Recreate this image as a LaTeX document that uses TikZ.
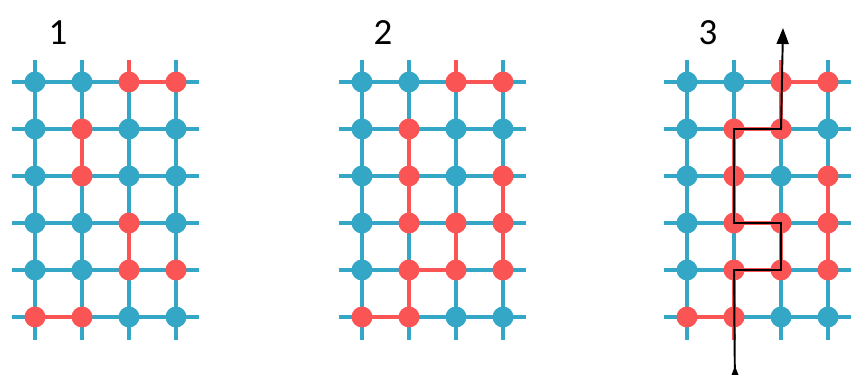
\documentclass[tikz,border=0pt]{standalone}
\usepackage{fontspec}
\setmainfont{Carlito}
\usetikzlibrary{arrows.meta, backgrounds}
\definecolor{spinblue}{RGB}{52, 166, 198}
\definecolor{spinred}{RGB}{250, 84, 84}

\tikzset{
  siteb/.style={circle, fill=spinblue, inner sep=0pt, minimum size=0.42cm},
  siter/.style={siteb, fill=spinred},
  bond/.style={spinblue, line width=0.085cm},
  redbond/.style={spinred, line width=0.085cm},
  wall/.style={black, line width=1.1pt},
  num/.style={font=\fontsize{21}{25}\selectfont}
}

% #1 lattice name, #2 x of first column, #3 site states row by row, #4 red bonds
\newcommand{\spinlattice}[4]{
  \foreach \row [count=\r] in {#3}
    \foreach \s [count=\c] in \row
      \node[site\s] (#1-\r-\c) at ({#2+47*(\c-1)}, {82+47*(\r-1)}) {};
  \foreach \r in {1,...,6} {
    \coordinate (#1-\r-W) at ({#2-23}, {82+47*(\r-1)});
    \coordinate (#1-\r-E) at ({#2+164}, {82+47*(\r-1)});
  }
  \foreach \c in {1,...,4} {
    \coordinate (#1-N-\c) at ({#2+47*(\c-1)}, 60);
    \coordinate (#1-S-\c) at ({#2+47*(\c-1)}, 340);
  }
  \begin{scope}[on background layer]
    \foreach \r in {1,...,6}
      \draw[bond] (#1-\r-W) -- (#1-\r-E);
    \foreach \c in {1,...,4}
      \draw[bond] (#1-N-\c) -- (#1-S-\c);
    \foreach \a/\b in {#4}
      \draw[redbond] (#1-\a.center) -- (#1-\b.center);
  \end{scope}
}

\begin{document}
\begin{tikzpicture}[x=0.02cm, y=-0.02cm]
  \useasboundingbox (0,0) rectangle (852,375);

  % three stages
  \node[num] (lab1) at (58,33) {1};
  \node[num] (lab2) at (383,33) {2};
  \node[num] (lab3) at (708,33) {3};

  \spinlattice{ga}{35}
    {{b,b,r,r},{b,r,b,b},{b,r,b,b},{b,b,r,b},{b,b,r,r},{r,r,b,b}}
    {N-3/1-3, 1-3/1-4, 2-2/3-2, 4-3/5-3, 6-1/6-2}

  \spinlattice{gb}{362}
    {{b,b,r,r},{b,r,b,b},{b,r,b,r},{b,r,r,r},{b,r,r,r},{r,r,b,b}}
    {N-3/1-3, 1-3/1-4, 2-2/3-2, 3-2/4-2, 5-2/5-3, 4-3/5-3, 3-4/4-4,
     4-4/5-4, 5-2/6-2, 6-1/6-2}

  \spinlattice{gc}{687}
    {{b,b,r,r},{b,r,r,b},{b,r,b,r},{b,r,r,r},{b,r,r,r},{r,r,b,b}}
    {N-3/1-3, 1-3/1-4, 1-3/2-3, 2-2/2-3, 2-2/3-2, 3-2/4-2, 4-2/4-3,
     4-3/5-3, 5-2/5-3, 5-2/6-2, 6-2/S-2, 6-1/6-2, 3-4/4-4, 4-4/5-4}

  % path through the red bonds
  \coordinate (pin) at (735,392);
  \coordinate (ptip) at (735,366);
  \coordinate (pout) at (783,28);
  \draw[wall, -{Triangle[length=0.32cm, width=0.24cm]}] (pin) -- (ptip);
  \draw[wall, -{Triangle[length=0.32cm, width=0.24cm]}]
    (pin) -- (gc-5-2.center) -- (gc-5-3.center) -- (gc-4-3.center)
    -- (gc-4-2.center) -- (gc-2-2.center) -- (gc-2-3.center) -- (pout);
\end{tikzpicture}
\end{document}
